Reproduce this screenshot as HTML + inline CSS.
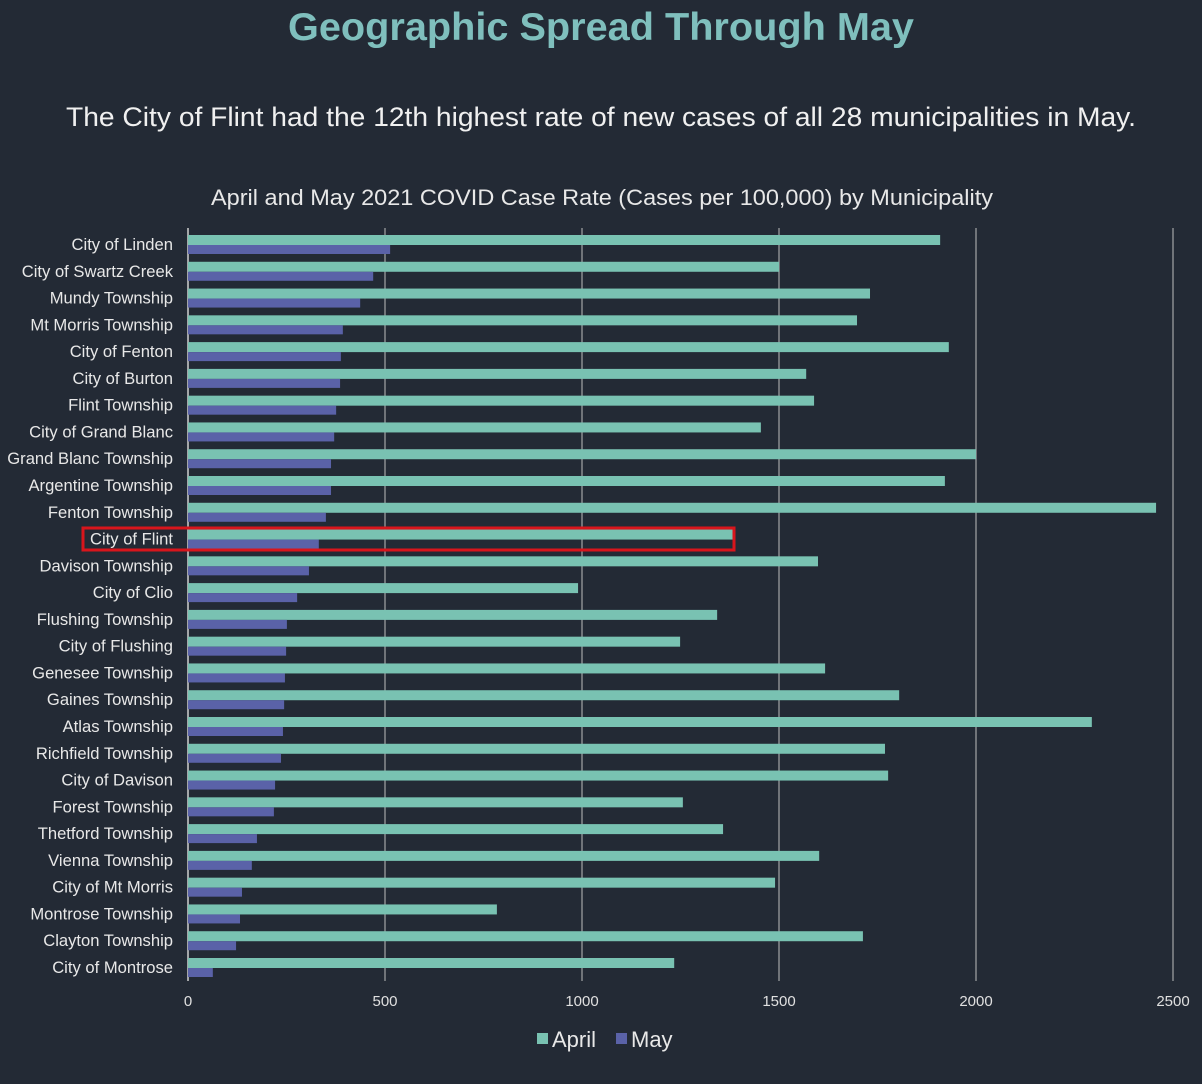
<!DOCTYPE html>
<html><head><meta charset="utf-8"><style>
html,body{margin:0;padding:0;background:#232a35;width:1202px;height:1084px;overflow:hidden;font-family:"Liberation Sans",sans-serif}
</style></head><body>
<svg width="1202" height="1084">
<rect width="1202" height="1084" fill="#232a35"/>
<text x="601" y="40" text-anchor="middle" font-size="39" font-weight="bold" fill="#7fbfbd" textLength="626" lengthAdjust="spacingAndGlyphs">Geographic Spread Through May</text>
<text x="601" y="126" text-anchor="middle" font-size="27" fill="#f0f0f0" textLength="1070" lengthAdjust="spacingAndGlyphs">The City of Flint had the 12th highest rate of new cases of all 28 municipalities in May.</text>
<text x="602" y="205" text-anchor="middle" font-size="22" fill="#e8e8e8" textLength="782" lengthAdjust="spacingAndGlyphs">April and May 2021 COVID Case Rate (Cases per 100,000) by Municipality</text>
<g id="grid"></g><g id="bars"></g><g id="labels"></g>
<g>
<rect x="537" y="1033" width="11" height="11" fill="#79c2b2"/>
<text x="552" y="1047" font-size="22" fill="#e8e8e8">April</text>
<rect x="616" y="1033" width="11" height="11" fill="#5a62a8"/>
<text x="631" y="1047" font-size="22" fill="#e8e8e8">May</text>
</g>
<rect x="83" y="528" width="651" height="22" fill="none" stroke="#d8151c" stroke-width="3"/>
</svg>
<script>
const categories=["City of Linden","City of Swartz Creek","Mundy Township","Mt Morris Township","City of Fenton","City of Burton","Flint Township","City of Grand Blanc","Grand Blanc Township","Argentine Township","Fenton Township","City of Flint","Davison Township","City of Clio","Flushing Township","City of Flushing","Genesee Township","Gaines Township","Atlas Township","Richfield Township","City of Davison","Forest Township","Thetford Township","Vienna Township","City of Mt Morris","Montrose Township","Clayton Township","City of Montrose"];
const april=[1909,1500,1731,1698,1931,1569,1589,1454,2000,1921,2457,1383,1599,990,1343,1249,1617,1805,2294,1769,1777,1256,1358,1602,1490,784,1713,1234];
const may=[513,470,437,393,388,386,376,371,363,363,350,332,307,277,251,249,246,244,241,236,221,218,175,162,137,132,122,63];
const ticks=[0,500,1000,1500,2000,2500];
const NS="http://www.w3.org/2000/svg";
const x0=188,pxPer=197/500,y0=244,step=(967-244)/27;
const xs=v=>x0+v*pxPer, yc=i=>y0+i*step;
function mk(t,a,p){const e=document.createElementNS(NS,t);for(const k in a)e.setAttribute(k,a[k]);p.appendChild(e);return e;}
const g=document.getElementById('grid'),b=document.getElementById('bars'),l=document.getElementById('labels');
ticks.forEach(t=>{
 const ln=mk('line',{x1:xs(t),x2:xs(t),y1:228,y2:981,stroke:t===0?'#cfcfcf':'#bdbdbd','stroke-width':t===0?1.5:1},g);
 
 
 const tx=mk('text',{x:xs(t),y:1006,'text-anchor':'middle','font-size':15,fill:'#e0e0e0'},l);
 tx.textContent=t;
 
 
});
categories.forEach((c,i)=>{
 const y=yc(i);
 const ra=mk('rect',{x:x0,y:y-9,width:xs(april[i])-x0,height:10,fill:'#79c2b2'},b);
 
 
 const rm=mk('rect',{x:x0,y:y+1,width:xs(may[i])-x0,height:9,fill:'#5a62a8'},b);
 
 
 const tx=mk('text',{x:173,y:y+6,'text-anchor':'end','font-size':16.6,fill:'#e8e8e8'},l);
 tx.textContent=c;
 
 
});
</script>
</body></html>
